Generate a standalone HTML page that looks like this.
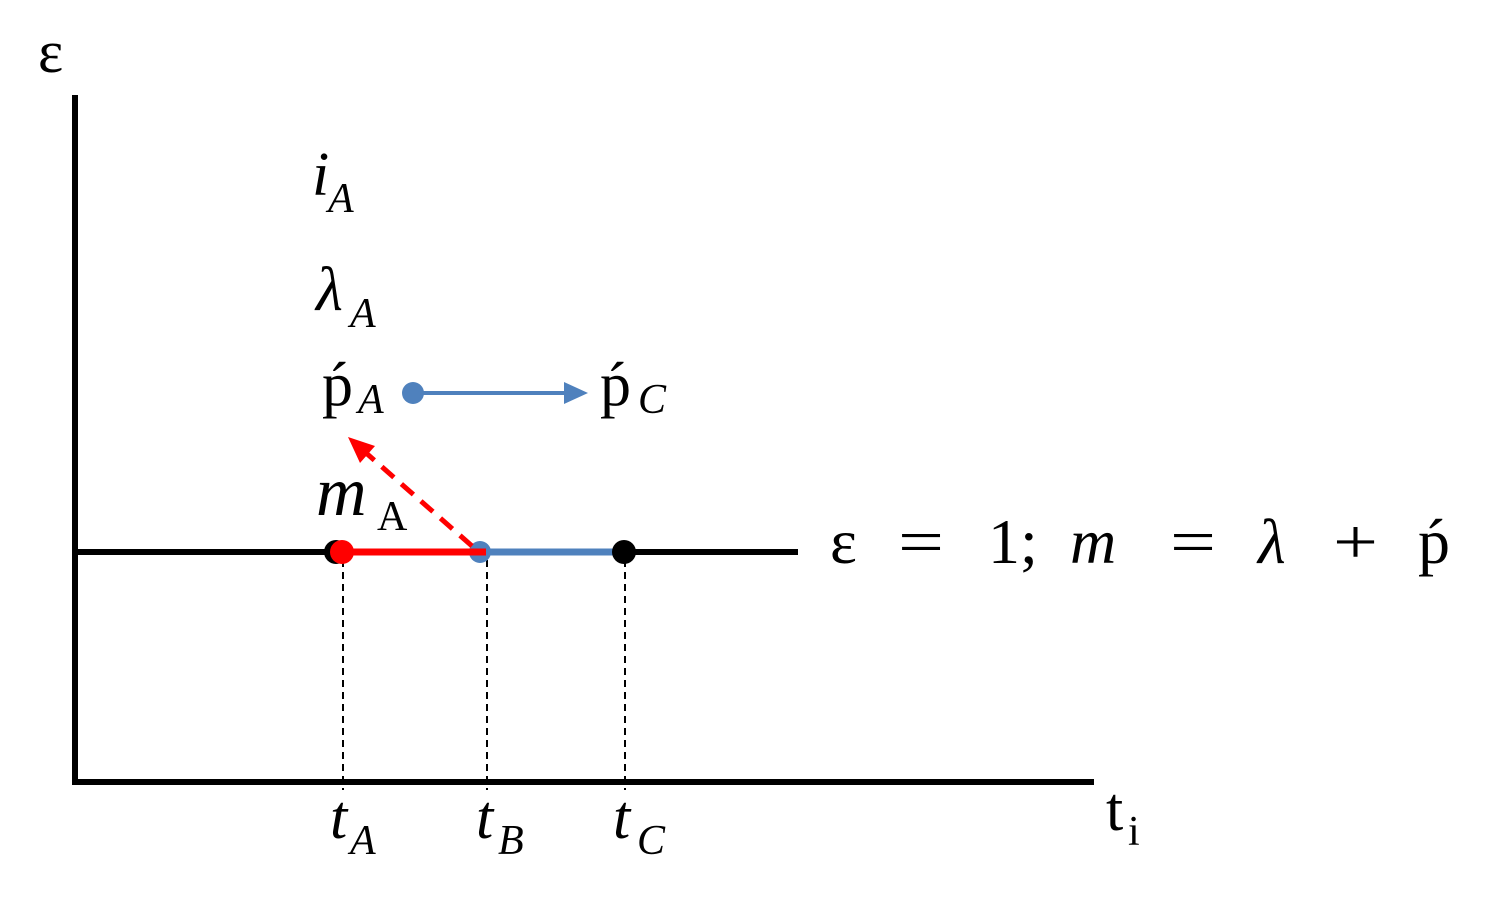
<!DOCTYPE html>
<html><head><meta charset="utf-8"><style>
html,body{margin:0;padding:0;background:#fff;}
svg{display:block;}
text{font-family:"Liberation Serif","DejaVu Serif",serif;fill:#000;}
.i{font-style:italic;}
</style></head><body>
<svg width="1500" height="905" viewBox="0 0 1500 905">
<line x1="75" y1="95" x2="75" y2="785" stroke="#000" stroke-width="6"/>
<line x1="72" y1="782" x2="1094" y2="782" stroke="#000" stroke-width="6"/>
<g stroke="#000" stroke-width="2" stroke-dasharray="7,5">
<line x1="343" y1="560" x2="343" y2="790"/>
<line x1="487" y1="560" x2="487" y2="790"/>
<line x1="625" y1="560" x2="625" y2="790"/>
</g>
<line x1="75" y1="552" x2="798" y2="552" stroke="#000" stroke-width="6"/>
<line x1="480" y1="552" x2="624" y2="552" stroke="#4f81bd" stroke-width="7"/>
<circle cx="480" cy="552" r="11" fill="#4f81bd"/>
<line x1="340" y1="552" x2="486" y2="552" stroke="#f00" stroke-width="7"/>
<circle cx="336" cy="552" r="12" fill="#000"/>
<circle cx="342" cy="552" r="12" fill="#f00"/>
<circle cx="624" cy="552" r="12" fill="#000"/>
<line x1="472" y1="546" x2="365" y2="452" stroke="#f00" stroke-width="5" stroke-dasharray="16,10"/>
<polygon points="348,437 375,446 360,463" fill="#f00"/>
<line x1="413" y1="393" x2="568" y2="393" stroke="#4f81bd" stroke-width="4"/>
<polygon points="588,393 564,382 564,404" fill="#4f81bd"/>
<circle cx="413" cy="393" r="11" fill="#4f81bd"/>
<text x="38" y="72" font-size="60">ε</text>
<text x="312" y="195" font-size="62" class="i">i</text><text x="328" y="212" font-size="42" class="i">A</text>
<text x="316" y="310" font-size="62" class="i">λ</text><text x="350" y="327" font-size="42" class="i">A</text>
<text x="322" y="405" font-size="62">ṕ</text><text x="358" y="413" font-size="42" class="i">A</text>
<text x="600" y="405" font-size="62">ṕ</text><text x="638" y="413" font-size="42" class="i">C</text>
<text x="316" y="515" font-size="70" class="i">m</text><text x="377" y="530" font-size="42">A</text>
<g font-size="64">
<text x="830" y="563">ε</text>
<text x="898" y="563" textLength="46" lengthAdjust="spacingAndGlyphs">=</text>
<text x="988" y="563">1;</text>
<text x="1070" y="563" class="i">m</text>
<text x="1170" y="563" textLength="46" lengthAdjust="spacingAndGlyphs">=</text>
<text x="1258" y="563" class="i">λ</text>
<text x="1333" y="563" textLength="45" lengthAdjust="spacingAndGlyphs">+</text>
<text x="1418" y="563">ṕ</text>
</g>
<text x="330" y="838" font-size="62" class="i">t</text><text x="350" y="854" font-size="42" class="i">A</text>
<text x="476" y="838" font-size="62" class="i">t</text><text x="498" y="854" font-size="42" class="i">B</text>
<text x="613" y="838" font-size="62" class="i">t</text><text x="637" y="854" font-size="42" class="i">C</text>
<text x="1106" y="830" font-size="62">t</text><text x="1128" y="845" font-size="42">i</text>
</svg>
</body></html>
